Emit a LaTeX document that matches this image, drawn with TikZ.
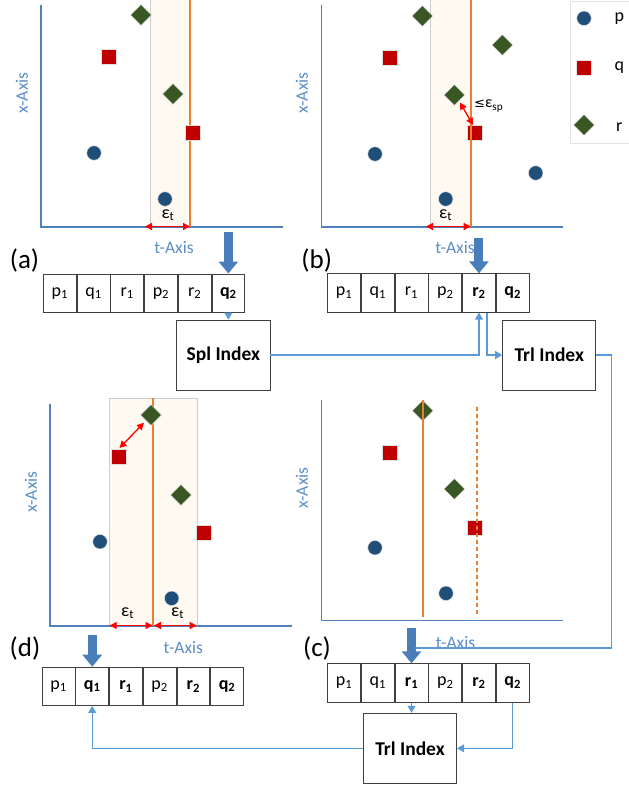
\documentclass[tikz,border=0pt]{standalone}
\usepackage{fontspec}
\setmainfont{Carlito}
\newfontfamily\symfont{DejaVu Sans}
\usetikzlibrary{arrows.meta,shapes.geometric,calc}
\definecolor{pblue}{RGB}{31,78,121}
\definecolor{qred}{RGB}{192,0,0}
\definecolor{rgreen}{RGB}{56,87,35}
\definecolor{axisc}{RGB}{79,129,189}
\definecolor{axtext}{RGB}{91,141,201}
\definecolor{orangec}{RGB}{237,125,49}
\definecolor{bandc}{RGB}{254,250,241}
\definecolor{bandb}{RGB}{205,205,205}
\definecolor{blockc}{RGB}{74,126,187}
\definecolor{linkc}{RGB}{91,155,213}
\definecolor{boxc}{RGB}{64,64,64}
\newcommand\mkrow[9]{%
  \node[cell, anchor=north west] (#1-1) at (#2,#3) {#4};
  \node[cell, anchor=west] (#1-2) at (#1-1.east) {#5};
  \node[cell, anchor=west] (#1-3) at (#1-2.east) {#6};
  \node[cell, anchor=west] (#1-4) at (#1-3.east) {#7};
  \node[cell, anchor=west] (#1-5) at (#1-4.east) {#8};
  \node[cell, anchor=west] (#1-6) at (#1-5.east) {#9};
}
\newcommand\sbs[2]{#1\textsubscript{#2}}
\newcommand\bsb[2]{\textbf{#1\textsubscript{#2}}}
\newcommand\epst{ε\textsubscript{t}}
\begin{document}
\begin{tikzpicture}[x=1pt,y=-1pt,
  ptp/.style={circle, fill=pblue, draw=white!75!gray, line width=0.5pt, minimum size=14.5pt, inner sep=0pt},
  ptq/.style={rectangle, fill=qred, draw=white!75!gray, line width=0.5pt, minimum size=15pt, inner sep=0pt},
  ptr/.style={diamond, fill=rgreen, draw=white!75!gray, line width=0.5pt, minimum width=21pt, minimum height=21pt, inner sep=0pt},
  cell/.style={draw=boxc, line width=0.8pt, minimum width=32.9pt, minimum height=38.4pt, inner sep=0pt, font=\fontsize{18}{18}\selectfont},
  idx/.style={draw=boxc, line width=0.9pt, minimum width=93.3pt, minimum height=70pt, inner sep=0pt, font=\bfseries\fontsize{19.5}{20}\selectfont},
  axislbl/.style={text=axtext, font=\fontsize{17.5}{18}\selectfont},
  plbl/.style={font=\fontsize{27}{27}\selectfont},
  lgd/.style={font=\fontsize{18}{18}\selectfont},
  epsl/.style={font=\fontsize{18}{18}\selectfont},
  axisline/.style={draw=axisc, line width=1.5pt},
  tline/.style={draw=orangec, line width=2pt},
  tbar/.style={fill=orangec},
  redarr/.style={draw=red, line width=1.3pt, {Triangle[length=7pt,width=7pt]}-{Triangle[length=7pt,width=7pt]}},
  link/.style={draw=linkc, line width=1.1pt},
  linkarr/.style={link, -{Triangle[length=7pt,width=8pt]}},
  blockarr/.style={draw=blockc, line width=9pt, -{Triangle[length=12pt,width=19pt]}}
]
\useasboundingbox (0,0) rectangle (629,787);

% ---------- panel (a)
\fill[bandc] (150,-5) rectangle (190,227);
\draw[bandb, line width=0.6pt] (150,-5) -- (150,227);
\draw[axisline] (41,5) -- (41,227) -- (282.7,227);
\fill[tbar] (189,-5) rectangle (191,227);
\node[ptr] (a1) at (141,15) {};
\node[ptq] (a2) at (109,57) {};
\node[ptr] (a3) at (173,94) {};
\node[ptq] (a4) at (193,133) {};
\node[ptp] (a5) at (94,153) {};
\node[ptp] (a6) at (165,199) {};
\node[epsl] (aeps) at (168,215) {\epst};
\coordinate (aL) at (145,226.5);
\coordinate (aR) at (190,226.5);
\draw[redarr] (aL) -- (aR);
\node[axislbl] (atx) at (174,248) {t-Axis};
\node[axislbl, rotate=90] (axx) at (22,93) {x-Axis};
\node[plbl] (alab) at (24.5,260) {(a)};

% ---------- panel (b)
\fill[bandc] (430.7,-5) rectangle (470.7,227);
\draw[bandb, line width=0.6pt] (430.7,-5) -- (430.7,227);
\draw[axisline] (321.7,5) -- (321.7,227) -- (563.3,227);
\node[ptr] (b1) at (422.3,16) {};
\node[ptq] (b2) at (390,58) {};
\node[ptr] (b3) at (502.3,45) {};
\node[ptr] (b4) at (454.3,95) {};
\node[ptq] (b5) at (474.3,133) {};
\node[ptp] (b6) at (375,154) {};
\node[ptp] (b7) at (535.7,173) {};
\node[ptp] (b8) at (445.7,199) {};
\fill[tbar] (470,-5) rectangle (472,227);
\coordinate (bs1) at (460,102.5);
\coordinate (bs2) at (473,125);
\draw[redarr] (bs1) -- (bs2);
\node[anchor=west, inner sep=0pt, font=\fontsize{16}{16}\selectfont] (besp) at (474,106) {{\symfont\fontsize{13}{13}\selectfont ≤}ε\textsubscript{sp}};
\node[epsl] (beps) at (445.7,215) {\epst};
\coordinate (bL) at (426,226.5);
\coordinate (bR) at (470.7,226.5);
\draw[redarr] (bL) -- (bR);
\node[axislbl] (btx) at (455,248) {t-Axis};
\node[axislbl, rotate=90] (bxx) at (302,93) {x-Axis};
\node[plbl] (blab) at (316.7,260) {(b)};

% legend
\draw[draw=white!78!gray, fill=white, line width=0.8pt] (570,1.7) rectangle (645,143);
\node[ptp] (lp) at (584,18.3) {};
\node[ptq] (lq) at (584,67.3) {};
\node[ptr] (lr) at (584,125) {};
\node[lgd] (lpt) at (619.3,19) {p};
\node[lgd] (lqt) at (619.3,68) {q};
\node[lgd] (lrt) at (619.3,127) {r};

% ---------- panel (d)
\fill[bandc] (109.7,398.3) rectangle (197.3,626);
\draw[bandb, line width=0.6pt] (109.7,626) -- (109.7,398.3) -- (197.3,398.3) -- (197.3,626);
\draw[axisline] (50,404) -- (50,626) -- (291.7,626);
\fill[tbar] (152,398.3) rectangle (154,626);
\node[ptr] (d1) at (151,415) {};
\node[ptq] (d2) at (119,456.7) {};
\node[ptr] (d3) at (181,495) {};
\node[ptq] (d4) at (204,532.7) {};
\node[ptp] (d5) at (100,541.7) {};
\node[ptp] (d6) at (171.7,598.3) {};
\coordinate (ds1) at (144,422.7);
\coordinate (ds2) at (119.5,448);
\draw[redarr] (ds1) -- (ds2);
\node[epsl] (deps1) at (127.7,613) {\epst};
\node[epsl] (deps2) at (177.7,613) {\epst};
\coordinate (dL1) at (109.7,625.5);
\coordinate (dR1) at (152.5,625.5);
\coordinate (dL2) at (154,625.5);
\coordinate (dR2) at (196.7,625.5);
\draw[redarr] (dL1) -- (dR1);
\draw[redarr] (dL2) -- (dR2);
\node[axislbl] (dtx) at (183.3,647.7) {t-Axis};
\node[axislbl, rotate=90] (dxx) at (31,492) {x-Axis};
\node[plbl] (dlab) at (25,648) {(d)};

% ---------- panel (c)
\draw[axisline] (321.7,400) -- (321.7,620.7) -- (563.3,620.7);
\node[ptr] (c1) at (422.7,410.7) {};
\node[ptq] (c2) at (390,452.3) {};
\node[ptr] (c3) at (454.3,489) {};
\node[ptq] (c4) at (475,527.7) {};
\node[ptp] (c5) at (375,547.7) {};
\node[ptp] (c6) at (446,593.3) {};
\fill[tbar] (422,400) rectangle (424,616.7);
\draw[tline, dash pattern=on 4pt off 3pt] (477,406.7) -- (477,616.7);
\node[axislbl] (ctx) at (455.5,643) {t-Axis};
\node[axislbl, rotate=90] (cxx) at (302,488) {x-Axis};
\node[plbl] (clab) at (317,648) {(c)};

% ---------- arrays
\mkrow{ra}{43}{273.5}{\sbs{p}{1}}{\sbs{q}{1}}{\sbs{r}{1}}{\sbs{p}{2}}{\sbs{r}{2}}{\bsb{q}{2}}
\mkrow{rb}{327.3}{273.3}{\sbs{p}{1}}{\sbs{q}{1}}{\sbs{r}{1}}{\sbs{p}{2}}{\bsb{r}{2}}{\bsb{q}{2}}
\mkrow{rc}{327.3}{663.3}{\sbs{p}{1}}{\sbs{q}{1}}{\bsb{r}{1}}{\sbs{p}{2}}{\bsb{r}{2}}{\bsb{q}{2}}
\mkrow{rd}{41.7}{666.7}{\sbs{p}{1}}{\bsb{q}{1}}{\bsb{r}{1}}{\sbs{p}{2}}{\bsb{r}{2}}{\bsb{q}{2}}

% ---------- index boxes
\node[idx] (spl) at (223.35,355) {Spl Index};
\node[idx] (trlA) at (549.25,355) {Trl Index};
\node[idx] (trlB) at (410,748.3) {Trl Index};

% ---------- block arrows
\coordinate (aT) at ($(ra-6.north)+(0,-41.5)$);
\coordinate (bT) at ($(rb-5.north)+(0,-35)$);
\coordinate (cT) at ($(rc-3.north)+(0,-35)$);
\coordinate (dT) at ($(rd-2.north)+(0,-31.7)$);
\draw[blockarr] (aT) -- (ra-6.north);
\draw[blockarr] (bT) -- (rb-5.north);
\draw[blockarr] (cT) -- (rc-3.north);
\draw[blockarr] (dT) -- (rd-2.north);

% ---------- connectors
\draw[linkarr] (ra-6.south) -- (ra-6.south |- spl.north);
\draw[linkarr] (spl.east) -| (rb-5.south);
\coordinate (bdn) at ($(rb-5.south)+(8,0)$);
\draw[linkarr] (bdn) |- (trlA.west);
\coordinate (rturn) at (611.5,648);
\coordinate (cend) at (415,648);
\draw[link] (trlA.east) -| (rturn) -- (cend);
\draw[linkarr] (rc-3.south) -- (rc-3.south |- trlB.north);
\draw[linkarr] (rc-6.south) |- (trlB.east);
\draw[linkarr] (trlB.west) -| (rd-2.south);
\end{tikzpicture}
\end{document}
